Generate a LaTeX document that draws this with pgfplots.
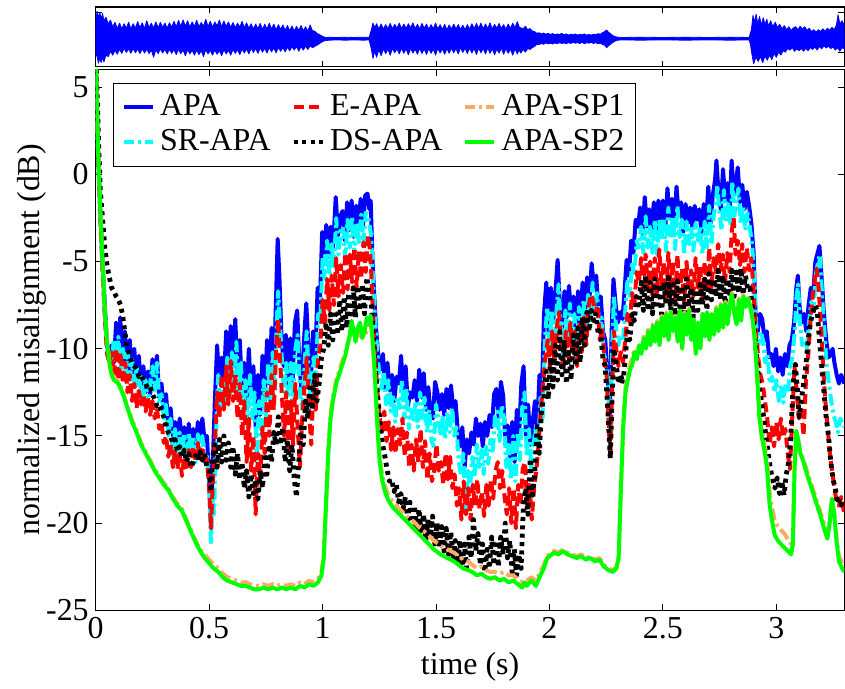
\documentclass[border=0pt]{standalone}
\usepackage{fontspec}
\setmainfont{Liberation Serif}
\usepackage{pgfplots}
\pgfplotsset{compat=1.18}
\definecolor{myorange}{RGB}{255,170,100}
\definecolor{mygreen}{RGB}{0,255,0}
\definecolor{mycyan}{RGB}{0,255,255}
\definecolor{myblue}{RGB}{0,0,255}
\definecolor{myred}{RGB}{255,0,0}
\begin{document}
\begin{tikzpicture}
\begin{axis}[name=main, scale only axis, width=375.4pt, height=271pt,
 xmin=0, xmax=3.3, ymin=-25, ymax=6,
 xtick={0,0.5,1,1.5,2,2.5,3}, xticklabels={0,0.5,1,1.5,2,2.5,3},
 ytick={-25,-20,-15,-10,-5,0,5}, yticklabels={-25,-20,-15,-10,-5,0,5},
 tick label style={font=\fontsize{16}{19}\selectfont},
 label style={font=\fontsize{16}{19}\selectfont},
 xlabel={time (s)}, ylabel={normalized misalignment (dB)},
 ylabel style={yshift=-7pt},
 major tick length=3pt, tick style={black, line width=0.5pt},
 axis line style={line width=0.6pt},
 legend columns=3,
 legend cell align=left,
 legend image code/.code={\draw[#1] (0pt,0pt) -- (14.5pt,0pt);},
 legend style={at={(axis description cs:0.0226,0.976)}, anchor=north west,
   draw=black, line width=0.5pt, fill=white, inner xsep=4.5pt, inner ysep=4pt,
   font=\fontsize{16}{19}\selectfont,
   nodes={inner sep=1pt, text height=11pt, text depth=3pt},
   /tikz/row sep=1.5pt,
   /tikz/column sep=1.5pt,
   /tikz/every even column/.append style={column sep=9.5pt}},
 every axis plot/.append style={line join=round},
]
% APA
\addplot[myblue, line width=2pt, forget plot] table {
0.000 7.0
0.010 1.5
0.020 -2.0
0.030 -5.0
0.040 -7.5
0.050 -9.8
0.060 -10.6
0.070 -9.8
0.080 -10.8
0.090 -8.5
0.100 -10.5
0.108 -8.2
0.118 -10.9
0.128 -9.0
0.140 -11.2
0.150 -9.5
0.160 -11.5
0.170 -10.0
0.180 -12.0
0.190 -10.4
0.200 -12.2
0.210 -11.0
0.220 -12.5
0.230 -11.3
0.240 -12.6
0.250 -10.6
0.260 -11.8
0.270 -10.4
0.280 -12.8
0.290 -12.0
0.300 -13.5
0.310 -12.6
0.320 -14.5
0.330 -13.4
0.340 -15.0
0.350 -14.2
0.360 -15.6
0.370 -14.0
0.380 -15.3
0.390 -14.5
0.400 -15.8
0.410 -14.3
0.420 -15.5
0.430 -14.6
0.440 -15.9
0.450 -14.2
0.460 -15.2
0.470 -14.0
0.480 -15.3
0.490 -15.0
0.500 -17.5
0.508 -20.0
0.515 -17.0
0.525 -13.0
0.535 -9.8
0.545 -12.0
0.555 -10.5
0.565 -11.8
0.575 -9.0
0.585 -11.5
0.595 -8.7
0.605 -11.0
0.615 -8.3
0.625 -11.5
0.635 -9.5
0.645 -12.5
0.655 -10.8
0.665 -13.0
0.675 -10.0
0.685 -12.8
0.695 -11.0
0.705 -14.5
0.715 -11.5
0.725 -13.8
0.735 -10.4
0.745 -13.0
0.755 -9.5
0.765 -12.0
0.775 -8.8
0.785 -11.5
0.795 -7.0
0.802 -3.7
0.810 -6.0
0.818 -9.0
0.828 -11.0
0.838 -9.2
0.848 -12.0
0.858 -9.4
0.868 -11.8
0.878 -8.5
0.888 -7.8
0.898 -11.0
0.908 -12.5
0.918 -9.5
0.928 -7.4
0.938 -10.0
0.948 -12.0
0.958 -9.0
0.968 -10.5
0.978 -6.5
0.988 -7.5
0.998 -3.3
1.008 -4.5
1.016 -2.9
1.026 -4.7
1.036 -3.0
1.046 -4.2
1.058 -1.3
1.068 -3.5
1.078 -2.4
1.088 -2.1
1.098 -3.8
1.108 -1.6
1.118 -3.2
1.128 -1.5
1.138 -3.6
1.148 -1.8
1.158 -2.8
1.168 -1.4
1.178 -3.0
1.188 -1.2
1.198 -1.1
1.206 -2.0
1.212 -1.5
1.220 -4.9
1.228 -7.0
1.236 -8.9
1.246 -10.5
1.256 -11.2
1.266 -10.3
1.276 -12.3
1.286 -10.8
1.296 -12.4
1.306 -11.5
1.316 -13.0
1.326 -11.6
1.336 -12.0
1.346 -10.4
1.356 -12.8
1.366 -11.0
1.376 -13.3
1.386 -12.5
1.396 -12.8
1.406 -11.8
1.416 -13.0
1.426 -11.2
1.436 -12.8
1.446 -11.4
1.456 -13.5
1.466 -12.2
1.476 -13.8
1.486 -14.0
1.496 -11.9
1.506 -12.5
1.516 -13.5
1.526 -12.6
1.536 -13.8
1.546 -12.3
1.556 -13.4
1.566 -12.1
1.576 -13.5
1.586 -13.0
1.596 -14.8
1.606 -15.6
1.616 -14.5
1.626 -16.8
1.636 -15.2
1.646 -16.0
1.656 -14.8
1.666 -15.5
1.676 -14.0
1.686 -15.0
1.696 -14.3
1.706 -15.6
1.716 -14.2
1.726 -15.0
1.736 -13.8
1.746 -14.5
1.756 -12.6
1.766 -12.3
1.776 -14.0
1.786 -11.9
1.796 -12.7
1.806 -15.5
1.816 -14.4
1.826 -16.2
1.836 -14.2
1.846 -16.5
1.856 -13.5
1.866 -15.0
1.876 -12.0
1.886 -11.0
1.896 -15.0
1.906 -13.2
1.916 -15.5
1.926 -14.2
1.936 -13.0
1.946 -14.5
1.956 -11.5
1.966 -12.8
1.976 -8.0
1.986 -6.2
1.996 -9.0
2.006 -6.5
2.016 -8.5
2.026 -6.8
2.036 -4.9
2.046 -7.5
2.056 -8.8
2.066 -6.7
2.076 -8.2
2.086 -6.4
2.096 -8.0
2.106 -7.0
2.116 -9.0
2.126 -6.7
2.136 -8.5
2.146 -6.2
2.156 -8.0
2.166 -5.9
2.176 -7.2
2.186 -5.1
2.196 -6.5
2.206 -5.8
2.216 -7.8
2.226 -7.0
2.236 -9.0
2.246 -9.5
2.256 -11.5
2.266 -13.9
2.274 -9.0
2.282 -6.0
2.292 -7.5
2.302 -8.5
2.312 -7.9
2.322 -8.3
2.332 -6.5
2.340 -4.9
2.350 -5.8
2.360 -3.8
2.370 -4.5
2.380 -2.6
2.390 -3.0
2.400 -1.9
2.410 -3.4
2.420 -1.3
2.430 -3.0
2.440 -2.0
2.450 -3.2
2.460 -1.6
2.470 -3.3
2.480 -1.5
2.490 -2.6
2.500 -1.5
2.510 -3.2
2.520 -0.8
2.530 -2.5
2.540 -1.4
2.550 -3.0
2.560 -0.7
2.570 -2.4
2.580 -1.6
2.590 -3.3
2.600 -1.7
2.610 -2.8
2.620 -1.9
2.630 -3.1
2.640 -1.8
2.650 -2.6
2.660 -2.0
2.670 -3.3
2.680 -1.7
2.690 -2.9
2.700 -0.7
2.710 -2.8
2.720 -1.2
2.730 -0.3
2.736 0.8
2.745 -1.0
2.755 -2.0
2.765 0.3
2.775 -1.5
2.785 -0.5
2.795 -1.8
2.803 0.8
2.812 -1.2
2.822 -0.4
2.830 0.4
2.840 -1.6
2.850 -0.6
2.860 -2.0
2.870 -1.0
2.880 -1.8
2.890 -2.8
2.900 -4.5
2.908 -7.9
2.918 -9.0
2.928 -8.0
2.938 -8.3
2.948 -9.5
2.958 -9.0
2.968 -10.5
2.978 -10.3
2.988 -11.0
2.998 -10.0
3.008 -11.3
3.018 -10.5
3.028 -11.5
3.038 -10.3
3.048 -11.0
3.058 -9.8
3.068 -9.5
3.078 -8.5
3.088 -6.5
3.095 -5.8
3.102 -7.5
3.112 -8.5
3.122 -8.0
3.132 -9.0
3.142 -7.5
3.152 -6.5
3.162 -7.0
3.172 -5.0
3.182 -4.5
3.190 -4.1
3.200 -6.0
3.210 -8.0
3.220 -9.5
3.230 -10.5
3.240 -10.3
3.248 -10.0
3.256 -10.8
3.266 -11.5
3.276 -12.0
3.286 -11.5
3.300 -12.0
};
% SR-APA
\addplot[mycyan, line width=2pt, dash pattern=on 6pt off 2pt on 1.5pt off 2pt, forget plot] table {
0.000 7.0
0.010 1.3
0.020 -2.2
0.030 -5.3
0.040 -7.8
0.050 -10.0
0.060 -10.4
0.070 -10.8
0.080 -9.5
0.090 -10.8
0.100 -9.3
0.110 -11.2
0.120 -10.0
0.130 -11.5
0.140 -10.2
0.150 -11.8
0.160 -10.6
0.170 -12.3
0.180 -11.0
0.190 -12.5
0.200 -11.5
0.210 -12.8
0.220 -11.8
0.230 -13.2
0.240 -12.0
0.250 -11.0
0.260 -12.4
0.270 -10.8
0.280 -13.0
0.290 -12.6
0.300 -14.0
0.310 -13.2
0.320 -15.0
0.330 -14.0
0.340 -16.2
0.350 -14.6
0.360 -16.5
0.370 -14.8
0.380 -16.0
0.390 -14.9
0.400 -16.4
0.410 -14.8
0.420 -16.0
0.430 -15.0
0.440 -16.6
0.450 -14.9
0.460 -16.2
0.470 -15.0
0.480 -16.5
0.490 -16.0
0.500 -18.0
0.508 -21.2
0.515 -18.5
0.522 -19.5
0.530 -15.0
0.540 -11.5
0.550 -13.5
0.560 -11.8
0.570 -13.2
0.580 -10.5
0.590 -12.8
0.600 -10.2
0.610 -12.5
0.620 -9.6
0.630 -12.8
0.640 -10.8
0.650 -14.0
0.660 -11.8
0.670 -14.5
0.680 -11.5
0.690 -14.0
0.700 -12.5
0.710 -16.5
0.720 -13.0
0.730 -15.0
0.740 -11.8
0.750 -14.2
0.760 -10.8
0.770 -13.5
0.780 -10.2
0.790 -12.5
0.798 -8.5
0.804 -6.7
0.812 -8.5
0.820 -10.5
0.830 -12.5
0.840 -10.8
0.850 -13.5
0.860 -10.8
0.870 -13.0
0.880 -10.0
0.890 -9.2
0.900 -12.5
0.910 -13.5
0.920 -11.0
0.930 -9.0
0.940 -11.8
0.950 -13.5
0.960 -10.5
0.970 -12.0
0.980 -8.0
0.990 -8.5
1.000 -4.8
1.010 -6.0
1.020 -3.8
1.030 -5.8
1.040 -4.0
1.050 -5.3
1.060 -2.5
1.070 -4.6
1.080 -3.2
1.090 -3.0
1.100 -4.8
1.110 -2.6
1.120 -4.2
1.130 -2.4
1.140 -4.6
1.150 -2.8
1.160 -3.9
1.170 -2.3
1.180 -4.0
1.190 -2.2
1.200 -2.3
1.208 -3.0
1.214 -3.5
1.222 -6.0
1.230 -8.0
1.240 -10.0
1.250 -11.5
1.260 -12.3
1.270 -11.3
1.280 -13.2
1.290 -11.8
1.300 -13.6
1.310 -12.6
1.320 -14.2
1.330 -12.8
1.340 -13.4
1.350 -11.8
1.360 -14.0
1.370 -12.3
1.380 -14.6
1.390 -13.5
1.400 -14.2
1.410 -13.0
1.420 -14.5
1.430 -12.5
1.440 -14.0
1.450 -12.8
1.460 -14.8
1.470 -13.5
1.480 -15.3
1.490 -15.6
1.500 -13.2
1.510 -14.0
1.520 -15.0
1.530 -13.8
1.540 -15.2
1.550 -13.6
1.560 -14.8
1.570 -13.4
1.580 -15.0
1.590 -14.5
1.600 -16.5
1.610 -17.2
1.620 -16.0
1.630 -19.5
1.640 -17.0
1.650 -18.0
1.660 -16.2
1.670 -17.3
1.680 -15.5
1.690 -16.8
1.700 -15.8
1.710 -17.2
1.720 -15.6
1.730 -16.6
1.740 -15.2
1.750 -16.0
1.760 -13.8
1.770 -13.6
1.780 -15.3
1.790 -13.2
1.800 -14.0
1.810 -16.8
1.820 -15.5
1.830 -17.5
1.840 -15.0
1.850 -17.6
1.860 -14.8
1.870 -16.4
1.880 -13.4
1.890 -12.5
1.900 -16.2
1.910 -14.6
1.920 -17.0
1.930 -15.5
1.940 -14.5
1.950 -15.8
1.960 -12.8
1.970 -14.0
1.980 -9.5
1.990 -7.6
2.000 -10.3
2.010 -7.8
2.020 -10.0
2.030 -8.0
2.040 -6.3
2.050 -8.8
2.060 -10.3
2.070 -7.8
2.080 -9.5
2.090 -7.4
2.100 -9.6
2.110 -8.0
2.120 -10.5
2.130 -7.6
2.140 -9.8
2.150 -7.2
2.160 -9.4
2.170 -6.9
2.180 -8.5
2.190 -6.2
2.200 -7.8
2.210 -6.8
2.220 -9.0
2.230 -8.2
2.240 -10.3
2.250 -10.8
2.260 -12.5
2.268 -15.0
2.276 -10.2
2.284 -7.0
2.294 -8.8
2.304 -9.8
2.314 -9.2
2.324 -9.6
2.334 -7.8
2.344 -6.0
2.354 -7.0
2.364 -5.0
2.374 -5.8
2.384 -3.8
2.394 -4.2
2.404 -3.0
2.414 -4.5
2.424 -2.4
2.434 -4.2
2.444 -3.0
2.454 -4.5
2.464 -2.6
2.474 -4.6
2.484 -2.6
2.494 -3.8
2.504 -2.5
2.514 -4.4
2.524 -1.9
2.534 -3.7
2.544 -2.4
2.554 -4.3
2.564 -1.8
2.574 -3.6
2.584 -2.6
2.594 -4.6
2.604 -2.7
2.614 -4.0
2.624 -2.9
2.634 -4.4
2.644 -2.8
2.654 -3.8
2.664 -3.0
2.674 -4.6
2.684 -2.7
2.694 -4.2
2.704 -1.8
2.714 -4.0
2.724 -2.3
2.734 -1.6
2.740 -0.6
2.749 -2.2
2.759 -3.2
2.769 -0.9
2.779 -2.7
2.789 -1.6
2.799 -3.0
2.806 -0.4
2.815 -2.4
2.825 -1.5
2.833 -0.8
2.843 -2.8
2.853 -1.8
2.863 -3.2
2.873 -2.2
2.883 -3.0
2.893 -4.0
2.903 -6.0
2.911 -8.6
2.921 -9.8
2.931 -9.0
2.941 -9.5
2.951 -10.8
2.961 -10.3
2.971 -12.0
2.981 -11.6
2.991 -12.5
3.001 -11.8
3.011 -13.0
3.021 -12.2
3.031 -13.1
3.041 -12.0
3.051 -12.5
3.061 -11.0
3.071 -10.5
3.081 -9.0
3.089 -7.0
3.096 -6.3
3.104 -8.5
3.114 -9.8
3.124 -9.5
3.134 -10.0
3.144 -8.5
3.154 -7.3
3.164 -7.8
3.174 -5.8
3.184 -5.0
3.192 -4.6
3.202 -7.0
3.212 -9.0
3.222 -11.0
3.232 -12.0
3.242 -13.0
3.252 -13.8
3.262 -14.2
3.272 -14.8
3.282 -14.0
3.300 -14.5
};
% E-APA
\addplot[myred, line width=2pt, dash pattern=on 5pt off 2.5pt, forget plot] table {
0.000 7.0
0.010 1.2
0.020 -2.5
0.030 -5.6
0.040 -8.2
0.050 -10.3
0.060 -10.8
0.070 -10.2
0.080 -11.5
0.090 -10.0
0.100 -11.8
0.110 -10.2
0.120 -12.0
0.130 -10.8
0.140 -12.5
0.150 -11.5
0.160 -13.0
0.170 -12.0
0.180 -13.4
0.190 -12.4
0.200 -13.2
0.210 -12.6
0.220 -13.6
0.230 -12.8
0.240 -13.8
0.250 -13.0
0.260 -14.0
0.270 -13.4
0.280 -14.6
0.290 -14.2
0.300 -15.4
0.310 -15.0
0.320 -16.2
0.330 -15.5
0.340 -16.8
0.350 -15.8
0.360 -16.9
0.370 -16.0
0.380 -17.3
0.390 -16.2
0.400 -17.0
0.410 -15.8
0.420 -16.8
0.430 -15.6
0.440 -16.5
0.450 -15.4
0.460 -16.2
0.470 -15.6
0.480 -16.6
0.490 -16.3
0.500 -18.0
0.508 -20.3
0.515 -18.0
0.525 -15.5
0.535 -12.5
0.545 -14.0
0.555 -11.5
0.565 -13.5
0.575 -11.0
0.585 -13.2
0.595 -10.7
0.605 -13.0
0.615 -11.5
0.625 -14.0
0.635 -12.0
0.645 -15.0
0.655 -13.0
0.665 -16.5
0.675 -14.0
0.685 -17.0
0.695 -15.0
0.705 -19.5
0.715 -16.0
0.725 -17.5
0.735 -14.5
0.745 -16.0
0.755 -12.5
0.765 -15.0
0.775 -11.5
0.785 -13.5
0.795 -10.0
0.804 -8.3
0.812 -10.5
0.820 -12.5
0.830 -15.0
0.840 -12.5
0.850 -15.8
0.860 -13.0
0.870 -15.5
0.880 -12.0
0.890 -14.5
0.900 -16.8
0.910 -14.0
0.920 -12.2
0.930 -10.5
0.940 -13.5
0.950 -15.5
0.960 -12.0
0.970 -13.5
0.980 -10.5
0.990 -9.8
1.000 -7.2
1.010 -8.5
1.020 -6.0
1.030 -7.8
1.040 -5.8
1.050 -7.5
1.060 -4.8
1.070 -7.0
1.080 -5.2
1.090 -6.8
1.100 -4.5
1.110 -6.6
1.120 -4.6
1.130 -6.2
1.140 -4.2
1.150 -6.5
1.160 -4.4
1.170 -6.0
1.180 -3.9
1.190 -5.6
1.200 -3.5
1.208 -4.2
1.214 -5.5
1.222 -8.0
1.232 -10.5
1.242 -12.5
1.252 -14.0
1.262 -14.8
1.272 -13.6
1.282 -15.3
1.292 -14.2
1.302 -15.8
1.312 -14.5
1.322 -16.0
1.332 -14.6
1.342 -15.5
1.352 -14.0
1.362 -16.2
1.372 -14.8
1.382 -16.8
1.392 -15.5
1.402 -17.0
1.412 -15.2
1.422 -16.5
1.432 -14.6
1.442 -16.8
1.452 -15.3
1.462 -17.5
1.472 -16.0
1.482 -17.6
1.492 -17.0
1.502 -15.5
1.512 -17.0
1.522 -16.5
1.532 -17.8
1.542 -16.0
1.552 -17.5
1.562 -16.2
1.572 -18.0
1.582 -17.2
1.592 -19.0
1.602 -18.0
1.612 -19.8
1.622 -17.6
1.632 -19.5
1.642 -18.0
1.652 -19.8
1.662 -17.8
1.672 -19.0
1.682 -17.5
1.692 -19.2
1.702 -18.2
1.712 -19.6
1.722 -17.8
1.732 -19.0
1.742 -17.5
1.752 -18.6
1.762 -17.0
1.772 -16.5
1.782 -18.0
1.792 -17.0
1.802 -18.5
1.812 -19.5
1.822 -18.0
1.832 -20.0
1.842 -18.0
1.852 -20.3
1.862 -17.8
1.872 -19.0
1.882 -16.9
1.892 -16.5
1.902 -19.0
1.912 -17.8
1.922 -19.8
1.932 -18.0
1.942 -17.0
1.952 -15.5
1.962 -13.5
1.972 -12.0
1.982 -10.5
1.992 -9.5
2.002 -11.0
2.012 -9.0
2.022 -10.8
2.032 -8.8
2.042 -7.9
2.052 -10.0
2.062 -11.2
2.072 -9.0
2.082 -10.5
2.092 -8.5
2.102 -10.3
2.112 -9.0
2.122 -11.0
2.132 -8.6
2.142 -10.2
2.152 -8.2
2.162 -9.8
2.172 -7.6
2.182 -6.9
2.192 -7.2
2.202 -8.0
2.212 -7.5
2.222 -9.5
2.232 -8.8
2.242 -10.5
2.252 -11.5
2.260 -14.0
2.268 -16.3
2.276 -12.5
2.284 -9.0
2.294 -10.0
2.304 -11.0
2.314 -10.2
2.324 -10.8
2.334 -9.5
2.344 -8.0
2.354 -8.5
2.364 -6.8
2.374 -7.5
2.384 -5.6
2.394 -6.2
2.404 -4.8
2.414 -6.8
2.424 -4.6
2.434 -6.5
2.444 -5.0
2.454 -7.0
2.464 -4.8
2.474 -6.8
2.484 -4.3
2.494 -6.5
2.504 -5.0
2.514 -7.2
2.524 -4.5
2.534 -6.6
2.544 -5.0
2.554 -7.3
2.564 -4.6
2.574 -6.8
2.584 -5.4
2.594 -7.4
2.604 -5.0
2.614 -6.6
2.624 -5.5
2.634 -7.0
2.644 -4.8
2.654 -6.5
2.664 -5.3
2.674 -7.2
2.684 -5.0
2.694 -6.8
2.704 -4.2
2.714 -6.5
2.724 -4.8
2.734 -5.6
2.744 -4.0
2.754 -5.5
2.764 -4.6
2.774 -6.2
2.784 -4.5
2.794 -5.6
2.804 -3.2
2.812 -2.5
2.820 -4.6
2.830 -3.8
2.840 -5.2
2.850 -4.0
2.860 -5.6
2.870 -4.2
2.880 -5.5
2.890 -4.8
2.900 -6.8
2.910 -9.0
2.920 -10.5
2.930 -11.5
2.940 -12.0
2.950 -13.0
2.960 -14.0
2.970 -15.5
2.980 -14.5
2.990 -15.6
3.000 -14.2
3.010 -15.2
3.020 -14.0
3.030 -15.1
3.040 -14.6
3.050 -16.0
3.060 -16.9
3.070 -14.0
3.080 -11.0
3.090 -12.5
3.100 -14.0
3.110 -13.5
3.120 -15.0
3.130 -12.0
3.140 -10.5
3.150 -8.5
3.160 -7.0
3.170 -6.0
3.178 -5.4
3.186 -6.5
3.196 -8.5
3.206 -11.0
3.216 -13.0
3.226 -14.5
3.236 -16.0
3.246 -17.0
3.256 -18.0
3.266 -18.8
3.276 -19.0
3.286 -18.5
3.300 -19.5
};
% DS-APA
\addplot[black, line width=2.4pt, dash pattern=on 2pt off 2.2pt, forget plot] table {
0.000 7.0
0.010 3.0
0.020 -0.9
0.030 -2.5
0.040 -4.2
0.050 -5.2
0.060 -5.9
0.070 -6.5
0.080 -6.7
0.090 -7.0
0.100 -7.2
0.110 -7.5
0.120 -8.2
0.130 -9.2
0.140 -10.0
0.150 -10.4
0.160 -10.8
0.170 -11.0
0.180 -11.2
0.190 -11.6
0.200 -11.5
0.210 -11.8
0.220 -12.0
0.230 -12.3
0.240 -12.2
0.250 -12.6
0.260 -12.9
0.270 -13.3
0.280 -13.2
0.290 -13.6
0.300 -13.9
0.310 -14.5
0.320 -14.8
0.330 -15.0
0.340 -15.4
0.350 -15.2
0.360 -15.9
0.370 -15.6
0.380 -16.2
0.390 -15.8
0.400 -16.5
0.410 -16.0
0.420 -16.8
0.430 -16.5
0.440 -16.1
0.450 -16.4
0.460 -15.9
0.470 -16.4
0.480 -16.0
0.490 -16.8
0.500 -17.0
0.508 -18.2
0.515 -16.2
0.525 -15.5
0.535 -16.8
0.545 -15.2
0.555 -16.5
0.565 -15.0
0.575 -16.4
0.585 -15.4
0.595 -16.8
0.605 -15.6
0.615 -17.2
0.625 -16.0
0.635 -17.5
0.645 -16.5
0.655 -18.0
0.665 -17.0
0.675 -18.5
0.685 -17.2
0.695 -18.3
0.705 -17.5
0.715 -18.6
0.725 -17.0
0.735 -18.0
0.745 -16.0
0.755 -17.2
0.765 -15.5
0.775 -16.5
0.785 -14.8
0.795 -15.5
0.805 -13.9
0.815 -15.5
0.825 -14.5
0.835 -16.5
0.845 -15.2
0.855 -17.0
0.865 -15.5
0.875 -17.5
0.885 -18.5
0.895 -16.5
0.905 -14.5
0.915 -15.5
0.925 -13.0
0.935 -14.0
0.945 -12.0
0.955 -13.5
0.965 -11.5
0.975 -13.0
0.985 -12.0
0.995 -10.5
1.005 -10.0
1.015 -8.5
1.025 -9.8
1.035 -8.0
1.045 -9.5
1.055 -7.8
1.065 -9.2
1.075 -7.2
1.085 -9.0
1.095 -7.0
1.105 -8.8
1.115 -6.8
1.125 -8.5
1.135 -6.5
1.145 -8.2
1.155 -6.4
1.165 -7.8
1.175 -6.3
1.185 -8.0
1.195 -5.9
1.205 -6.8
1.215 -7.5
1.225 -9.5
1.235 -11.5
1.245 -13.0
1.255 -14.5
1.265 -15.5
1.275 -16.2
1.285 -17.0
1.295 -17.6
1.305 -17.5
1.315 -18.2
1.325 -17.8
1.335 -18.8
1.345 -18.3
1.355 -19.2
1.365 -18.5
1.375 -19.8
1.385 -18.8
1.395 -20.2
1.405 -19.0
1.415 -20.5
1.425 -19.2
1.435 -20.6
1.445 -19.5
1.455 -21.0
1.465 -19.8
1.475 -20.8
1.485 -19.6
1.495 -21.2
1.505 -20.0
1.515 -21.4
1.525 -20.2
1.535 -21.6
1.545 -20.3
1.555 -21.8
1.565 -20.5
1.575 -22.0
1.585 -21.0
1.595 -22.3
1.605 -21.0
1.615 -22.5
1.625 -21.2
1.635 -22.6
1.645 -20.8
1.655 -22.0
1.665 -19.8
1.675 -21.6
1.685 -20.6
1.695 -22.4
1.705 -21.2
1.715 -22.8
1.725 -21.5
1.735 -22.6
1.745 -20.8
1.755 -22.4
1.765 -21.0
1.775 -22.5
1.785 -20.8
1.795 -21.8
1.805 -20.0
1.815 -22.0
1.825 -21.0
1.835 -22.8
1.845 -21.5
1.855 -23.0
1.865 -21.8
1.875 -22.6
1.885 -19.0
1.895 -18.0
1.905 -19.5
1.915 -16.3
1.925 -18.4
1.935 -17.2
1.945 -14.5
1.955 -16.0
1.965 -13.5
1.975 -12.8
1.985 -11.3
1.995 -12.9
2.005 -10.5
2.015 -12.2
2.025 -9.8
2.035 -11.8
2.045 -9.0
2.055 -11.5
2.065 -9.5
2.075 -12.0
2.085 -10.0
2.095 -11.8
2.105 -9.2
2.115 -11.0
2.125 -8.8
2.135 -10.8
2.145 -8.2
2.155 -9.8
2.165 -7.9
2.175 -9.0
2.185 -7.8
2.195 -8.4
2.205 -8.0
2.215 -9.2
2.225 -9.0
2.235 -10.5
2.245 -11.0
2.255 -13.0
2.263 -15.0
2.268 -16.3
2.276 -13.0
2.284 -10.0
2.294 -10.8
2.304 -12.0
2.314 -11.5
2.324 -12.0
2.334 -10.5
2.344 -9.0
2.354 -9.5
2.364 -8.0
2.374 -8.4
2.384 -7.0
2.394 -7.5
2.404 -6.2
2.414 -7.8
2.424 -5.8
2.434 -7.6
2.444 -6.2
2.454 -8.0
2.464 -6.0
2.474 -7.7
2.484 -6.3
2.494 -8.0
2.504 -6.2
2.514 -7.5
2.524 -5.9
2.534 -7.8
2.544 -6.3
2.554 -8.1
2.564 -6.1
2.574 -7.6
2.584 -6.4
2.594 -8.0
2.604 -6.0
2.614 -7.6
2.624 -6.5
2.634 -8.2
2.644 -6.6
2.654 -7.8
2.664 -6.3
2.674 -7.5
2.684 -6.0
2.694 -7.8
2.704 -5.7
2.714 -7.2
2.724 -6.0
2.734 -7.0
2.744 -5.5
2.754 -7.2
2.764 -5.8
2.774 -7.4
2.784 -6.0
2.794 -7.0
2.804 -5.5
2.814 -7.0
2.824 -5.6
2.834 -6.8
2.844 -5.4
2.854 -6.9
2.864 -5.8
2.874 -6.6
2.884 -6.5
2.894 -7.5
2.904 -9.0
2.914 -10.5
2.924 -12.0
2.934 -13.0
2.944 -13.9
2.954 -15.0
2.964 -16.0
2.974 -16.9
2.984 -17.5
2.994 -18.0
3.004 -17.4
3.014 -18.3
3.024 -17.6
3.034 -18.4
3.044 -17.2
3.054 -16.5
3.064 -15.0
3.074 -12.0
3.084 -10.9
3.094 -12.5
3.100 -13.9
3.110 -13.0
3.120 -12.0
3.130 -11.0
3.140 -9.5
3.150 -8.5
3.160 -8.0
3.170 -7.5
3.180 -7.8
3.190 -9.5
3.200 -11.0
3.210 -12.5
3.220 -14.0
3.230 -15.0
3.240 -16.5
3.250 -17.5
3.260 -18.0
3.270 -18.9
3.280 -18.6
3.290 -19.0
3.300 -19.2
};
% APA-SP1
\addplot[myorange, line width=2pt, dash pattern=on 6pt off 2pt on 1.5pt off 2pt, forget plot] table {
0.000 7.0
0.005 4.1
0.010 1.6
0.020 -1.9
0.030 -4.9
0.040 -7.7
0.050 -9.5
0.060 -10.7
0.070 -11.4
0.080 -11.7
0.090 -11.8
0.100 -11.9
0.120 -12.5
0.140 -13.3
0.160 -14.1
0.180 -14.7
0.200 -15.4
0.220 -15.9
0.240 -16.4
0.260 -16.9
0.280 -17.3
0.300 -17.7
0.320 -18.0
0.340 -18.5
0.360 -18.9
0.380 -19.2
0.400 -19.8
0.420 -20.4
0.440 -21.0
0.460 -21.5
0.480 -21.8
0.500 -22.1
0.520 -22.4
0.540 -22.6
0.560 -22.9
0.580 -23.1
0.600 -23.2
0.620 -23.3
0.640 -23.4
0.660 -23.4
0.680 -23.5
0.700 -23.6
0.720 -23.6
0.740 -23.5
0.760 -23.6
0.780 -23.5
0.800 -23.6
0.820 -23.5
0.840 -23.6
0.860 -23.5
0.880 -23.6
0.900 -23.4
0.920 -23.5
0.940 -23.3
0.960 -23.4
0.980 -23.2
0.995 -22.8
1.005 -21.8
1.015 -18.8
1.025 -15.8
1.035 -13.8
1.045 -12.8
1.060 -11.8
1.075 -11.2
1.090 -10.6
1.100 -10.2
1.110 -9.7
1.120 -9.3
1.130 -9.0
1.150 -9.3
1.170 -9.2
1.190 -9.1
1.212 -8.5
1.220 -9.4
1.228 -10.9
1.236 -12.8
1.244 -14.8
1.252 -16.2
1.262 -17.2
1.275 -17.9
1.290 -18.4
1.310 -18.8
1.340 -19.2
1.370 -19.6
1.400 -19.9
1.430 -20.3
1.460 -20.6
1.490 -21.0
1.520 -21.3
1.550 -21.5
1.580 -21.7
1.600 -21.9
1.620 -22.1
1.640 -22.2
1.660 -22.4
1.680 -22.6
1.700 -22.5
1.720 -22.7
1.740 -22.8
1.760 -22.8
1.780 -22.9
1.800 -22.8
1.820 -23.0
1.840 -23.0
1.860 -23.2
1.880 -23.4
1.900 -23.3
1.920 -23.1
1.940 -23.3
1.960 -22.8
1.975 -22.4
1.990 -21.9
2.000 -21.8
2.020 -21.6
2.040 -21.7
2.060 -21.5
2.080 -21.7
2.100 -21.8
2.120 -21.9
2.140 -21.8
2.160 -22.0
2.180 -21.9
2.200 -22.1
2.220 -22.0
2.240 -22.4
2.260 -22.6
2.280 -22.7
2.295 -22.5
2.305 -21.9
2.315 -17.9
2.325 -14.3
2.335 -12.2
2.345 -11.5
2.355 -10.9
2.365 -10.5
2.375 -10.0
2.385 -10.5
2.395 -9.7
2.405 -10.2
2.415 -9.3
2.425 -9.9
2.435 -8.9
2.445 -9.7
2.455 -8.6
2.465 -9.5
2.475 -8.4
2.485 -9.7
2.495 -8.1
2.505 -9.2
2.515 -7.9
2.525 -9.4
2.535 -7.8
2.545 -8.9
2.555 -8.1
2.565 -9.5
2.575 -7.7
2.585 -9.9
2.595 -7.9
2.605 -9.1
2.615 -7.7
2.625 -9.4
2.635 -8.2
2.645 -10.2
2.655 -8.4
2.665 -9.9
2.675 -7.9
2.685 -9.2
2.695 -7.8
2.705 -9.4
2.715 -7.9
2.725 -9.1
2.735 -7.6
2.745 -8.9
2.755 -7.4
2.765 -8.7
2.775 -7.3
2.785 -8.5
2.795 -7.4
2.805 -6.8
2.815 -7.9
2.825 -8.5
2.835 -7.1
2.845 -8.3
2.855 -6.9
2.865 -7.5
2.875 -7.0
2.885 -7.5
2.895 -8.1
2.905 -9.3
2.915 -11.2
2.925 -13.5
2.935 -14.6
2.950 -15.6
2.960 -16.5
2.970 -18.2
2.980 -19.0
2.993 -19.9
3.007 -20.2
3.020 -20.4
3.035 -20.6
3.050 -20.9
3.065 -21.2
3.073 -20.8
3.080 -17.0
3.088 -14.8
3.096 -15.2
3.106 -15.9
3.120 -16.4
3.135 -17.0
3.150 -17.6
3.165 -18.2
3.180 -18.8
3.195 -19.4
3.210 -20.0
3.225 -20.6
3.235 -19.9
3.245 -18.7
3.255 -19.4
3.265 -20.8
3.276 -21.9
3.290 -22.3
3.300 -22.5
};
% APA-SP2
\addplot[mygreen, line width=2pt, forget plot] table {
0.000 7.0
0.005 4.0
0.010 1.5
0.020 -2.0
0.030 -5.0
0.040 -7.8
0.050 -9.6
0.060 -10.8
0.070 -11.5
0.080 -11.8
0.090 -11.9
0.100 -12.0
0.110 -12.3
0.120 -12.6
0.130 -13.0
0.140 -13.4
0.160 -14.2
0.180 -14.8
0.200 -15.5
0.220 -16.0
0.240 -16.5
0.260 -17.0
0.280 -17.4
0.300 -17.8
0.320 -18.1
0.340 -18.6
0.360 -19.0
0.380 -19.3
0.400 -19.9
0.420 -20.5
0.440 -21.1
0.460 -21.6
0.480 -22.0
0.500 -22.3
0.520 -22.6
0.540 -22.8
0.560 -23.1
0.580 -23.3
0.600 -23.4
0.620 -23.5
0.640 -23.6
0.660 -23.6
0.680 -23.7
0.700 -23.8
0.720 -23.8
0.740 -23.7
0.760 -23.8
0.780 -23.7
0.800 -23.8
0.820 -23.7
0.840 -23.8
0.860 -23.7
0.880 -23.8
0.900 -23.6
0.920 -23.7
0.940 -23.5
0.960 -23.6
0.980 -23.4
0.995 -23.0
1.005 -22.0
1.015 -19.0
1.025 -16.0
1.035 -14.0
1.045 -13.0
1.060 -12.0
1.075 -11.4
1.090 -10.8
1.100 -10.4
1.110 -9.8
1.120 -9.2
1.128 -8.4
1.136 -8.9
1.145 -9.6
1.155 -8.8
1.165 -8.5
1.175 -9.4
1.185 -9.0
1.195 -8.2
1.205 -8.6
1.212 -8.1
1.220 -9.5
1.228 -11.0
1.236 -13.0
1.244 -15.0
1.252 -16.5
1.262 -17.5
1.275 -18.2
1.290 -18.7
1.310 -19.1
1.340 -19.5
1.370 -19.9
1.400 -20.3
1.430 -20.7
1.460 -21.1
1.490 -21.5
1.520 -21.8
1.550 -22.0
1.580 -22.2
1.600 -22.4
1.620 -22.6
1.640 -22.7
1.660 -22.8
1.680 -23.0
1.700 -22.9
1.720 -23.1
1.740 -23.2
1.760 -23.1
1.780 -23.3
1.800 -23.2
1.820 -23.4
1.840 -23.3
1.860 -23.5
1.880 -23.7
1.890 -23.4
1.900 -23.6
1.920 -23.3
1.940 -23.6
1.960 -23.0
1.975 -22.6
1.990 -22.0
2.000 -21.9
2.020 -21.7
2.040 -21.8
2.060 -21.6
2.080 -21.8
2.100 -21.9
2.120 -22.0
2.140 -21.9
2.160 -22.1
2.180 -22.0
2.200 -22.2
2.220 -22.1
2.240 -22.5
2.260 -22.7
2.280 -22.8
2.295 -22.6
2.305 -22.0
2.315 -18.0
2.325 -14.5
2.335 -12.5
2.345 -11.8
2.355 -11.2
2.365 -10.9
2.375 -10.2
2.385 -10.6
2.395 -9.8
2.405 -10.3
2.415 -9.4
2.425 -10.0
2.435 -9.0
2.445 -9.8
2.455 -8.7
2.465 -9.6
2.475 -8.5
2.485 -9.8
2.495 -8.2
2.505 -9.3
2.515 -8.0
2.525 -9.5
2.535 -7.9
2.545 -9.0
2.555 -8.2
2.565 -9.6
2.575 -7.8
2.585 -10.0
2.595 -8.0
2.605 -9.2
2.615 -7.8
2.625 -9.5
2.635 -8.3
2.645 -10.3
2.655 -8.5
2.665 -10.0
2.675 -8.0
2.685 -9.3
2.695 -7.9
2.705 -9.5
2.715 -8.0
2.725 -9.2
2.735 -7.7
2.745 -9.0
2.755 -7.5
2.765 -8.8
2.775 -7.4
2.785 -8.6
2.795 -7.5
2.805 -6.9
2.815 -8.0
2.825 -8.6
2.835 -7.2
2.845 -8.4
2.855 -7.0
2.865 -7.6
2.875 -7.1
2.885 -7.6
2.895 -8.3
2.905 -9.5
2.915 -11.5
2.925 -13.9
2.935 -15.0
2.950 -16.0
2.960 -17.0
2.970 -18.9
2.980 -19.8
2.993 -20.7
3.007 -21.0
3.020 -21.2
3.035 -21.4
3.050 -21.6
3.065 -21.8
3.073 -21.2
3.080 -17.0
3.088 -14.7
3.096 -15.2
3.106 -16.0
3.120 -16.5
3.135 -17.2
3.150 -17.8
3.165 -18.4
3.180 -19.0
3.195 -19.6
3.210 -20.3
3.225 -20.9
3.235 -20.0
3.245 -18.6
3.255 -19.5
3.265 -21.0
3.276 -22.2
3.290 -22.6
3.300 -22.8
};
\addlegendimage{myblue, line width=2pt}
\addlegendentry{APA}
\addlegendimage{myred, line width=2pt, dash pattern=on 5pt off 2.5pt}
\addlegendentry{E-APA}
\addlegendimage{myorange, line width=2pt, dash pattern=on 5pt off 2pt on 1.5pt off 2pt}
\addlegendentry{APA-SP1}
\addlegendimage{mycyan, line width=2pt, dash pattern=on 5pt off 2pt on 1.5pt off 2pt}
\addlegendentry{SR-APA}
\addlegendimage{black, line width=2.4pt, dash pattern=on 2pt off 2.2pt}
\addlegendentry{DS-APA}
\addlegendimage{mygreen, line width=2pt}
\addlegendentry{APA-SP2}
\end{axis}
\begin{axis}[name=top, at={(main.north west)}, anchor=south west, yshift=1.5pt,
 scale only axis, width=375.4pt, height=30pt,
 xmin=0, xmax=3.3, ymin=-0.94, ymax=1.06,
 xtick={0.5,1,1.5,2,2.5,3}, xticklabels={},
 ytick={-0.46,0.86}, yticklabels={},
 major tick length=3pt, tick style={black, line width=0.5pt},
 axis line style={line width=0.6pt}]
\addplot[draw=myblue, fill=myblue, line width=0.4pt, line join=round] table {
0.000 0.55
0.006 0.92
0.012 0.70
0.018 0.88
0.024 0.65
0.030 0.85
0.036 0.60
0.045 0.72
0.055 0.50
0.065 0.62
0.075 0.40
0.085 0.55
0.095 0.34
0.105 0.52
0.115 0.33
0.125 0.50
0.135 0.35
0.145 0.55
0.155 0.33
0.165 0.50
0.175 0.36
0.185 0.57
0.195 0.37
0.205 0.53
0.215 0.34
0.225 0.60
0.235 0.37
0.245 0.52
0.255 0.35
0.265 0.56
0.275 0.37
0.285 0.55
0.295 0.38
0.305 0.52
0.315 0.36
0.325 0.53
0.335 0.39
0.345 0.58
0.355 0.40
0.365 0.61
0.375 0.41
0.385 0.63
0.395 0.42
0.405 0.60
0.415 0.39
0.425 0.56
0.435 0.41
0.445 0.62
0.455 0.40
0.465 0.54
0.475 0.42
0.485 0.65
0.495 0.41
0.505 0.58
0.515 0.39
0.525 0.56
0.535 0.43
0.545 0.62
0.555 0.40
0.565 0.59
0.575 0.41
0.585 0.56
0.595 0.38
0.605 0.54
0.615 0.37
0.625 0.52
0.635 0.39
0.645 0.58
0.655 0.37
0.665 0.53
0.675 0.35
0.685 0.50
0.695 0.32
0.705 0.49
0.715 0.34
0.725 0.51
0.735 0.31
0.745 0.48
0.755 0.33
0.765 0.52
0.775 0.32
0.785 0.49
0.795 0.30
0.805 0.47
0.815 0.31
0.825 0.46
0.835 0.28
0.845 0.44
0.855 0.27
0.865 0.42
0.875 0.26
0.885 0.41
0.895 0.28
0.905 0.44
0.915 0.27
0.925 0.40
0.935 0.25
0.945 0.46
0.955 0.27
0.965 0.25
0.975 0.18
0.985 0.14
0.995 0.10
1.005 0.06
1.015 0.04
1.030 0.05
1.060 0.04
1.100 0.05
1.140 0.04
1.180 0.05
1.205 0.04
1.215 0.30
1.222 0.52
1.230 0.38
1.238 0.50
1.248 0.33
1.258 0.49
1.268 0.32
1.278 0.47
1.288 0.34
1.298 0.51
1.308 0.33
1.318 0.48
1.328 0.35
1.338 0.52
1.348 0.33
1.358 0.49
1.368 0.34
1.378 0.50
1.388 0.36
1.398 0.53
1.408 0.34
1.418 0.48
1.428 0.33
1.438 0.51
1.448 0.35
1.458 0.49
1.468 0.32
1.478 0.47
1.488 0.34
1.498 0.52
1.508 0.33
1.518 0.47
1.528 0.31
1.538 0.48
1.548 0.30
1.558 0.46
1.568 0.32
1.578 0.49
1.588 0.33
1.598 0.47
1.608 0.31
1.618 0.45
1.628 0.30
1.638 0.47
1.648 0.32
1.658 0.50
1.668 0.34
1.678 0.51
1.688 0.35
1.698 0.52
1.708 0.33
1.718 0.49
1.728 0.34
1.738 0.53
1.748 0.33
1.758 0.48
1.768 0.35
1.778 0.51
1.788 0.34
1.798 0.47
1.808 0.32
1.818 0.49
1.828 0.35
1.838 0.52
1.848 0.37
1.858 0.57
1.866 0.40
1.874 0.36
1.884 0.33
1.894 0.42
1.904 0.30
1.914 0.34
1.924 0.26
1.934 0.24
1.944 0.18
1.954 0.20
1.964 0.16
1.974 0.19
1.984 0.15
1.994 0.18
2.004 0.14
2.014 0.17
2.024 0.13
2.034 0.16
2.044 0.14
2.054 0.18
2.064 0.13
2.074 0.16
2.084 0.12
2.094 0.15
2.104 0.13
2.114 0.16
2.124 0.12
2.134 0.15
2.144 0.13
2.154 0.16
2.164 0.12
2.174 0.14
2.184 0.12
2.194 0.15
2.204 0.13
2.214 0.17
2.224 0.15
2.234 0.20
2.244 0.24
2.252 0.29
2.260 0.22
2.270 0.16
2.280 0.10
2.290 0.07
2.300 0.05
2.320 0.04
2.400 0.05
2.500 0.04
2.600 0.05
2.700 0.04
2.800 0.05
2.880 0.04
2.890 0.30
2.897 0.78
2.904 0.55
2.911 0.82
2.918 0.50
2.926 0.74
2.934 0.45
2.942 0.70
2.950 0.48
2.958 0.65
2.966 0.42
2.975 0.60
2.985 0.40
2.995 0.55
3.005 0.38
3.015 0.48
3.025 0.33
3.035 0.44
3.045 0.30
3.055 0.40
3.065 0.28
3.075 0.36
3.085 0.40
3.095 0.30
3.105 0.42
3.115 0.32
3.125 0.40
3.135 0.28
3.145 0.35
3.155 0.24
3.165 0.30
3.175 0.22
3.185 0.30
3.195 0.24
3.205 0.33
3.215 0.25
3.225 0.35
3.235 0.28
3.245 0.38
3.255 0.30
3.265 0.46
3.272 0.80
3.280 0.50
3.290 0.60
3.300 0.45
3.300 -0.35
3.290 -0.30
3.280 -0.42
3.270 -0.30
3.260 -0.38
3.250 -0.28
3.240 -0.33
3.230 -0.25
3.220 -0.31
3.210 -0.24
3.200 -0.34
3.190 -0.26
3.180 -0.38
3.170 -0.28
3.160 -0.36
3.150 -0.30
3.140 -0.40
3.130 -0.32
3.120 -0.42
3.110 -0.33
3.100 -0.40
3.090 -0.34
3.080 -0.42
3.070 -0.30
3.060 -0.38
3.050 -0.33
3.040 -0.45
3.030 -0.40
3.020 -0.55
3.010 -0.45
3.000 -0.62
2.990 -0.50
2.980 -0.70
2.970 -0.55
2.960 -0.72
2.950 -0.58
2.940 -0.80
2.930 -0.60
2.920 -0.76
2.910 -0.62
2.900 -0.84
2.893 -0.55
2.886 -0.20
2.880 -0.04
2.800 -0.05
2.700 -0.04
2.600 -0.05
2.500 -0.04
2.400 -0.05
2.320 -0.04
2.300 -0.05
2.290 -0.08
2.280 -0.12
2.270 -0.18
2.260 -0.24
2.252 -0.30
2.244 -0.22
2.234 -0.19
2.224 -0.15
2.214 -0.17
2.204 -0.13
2.194 -0.16
2.184 -0.12
2.174 -0.15
2.164 -0.13
2.154 -0.17
2.144 -0.12
2.134 -0.16
2.124 -0.13
2.114 -0.15
2.104 -0.12
2.094 -0.16
2.084 -0.13
2.074 -0.17
2.064 -0.14
2.054 -0.16
2.044 -0.13
2.034 -0.17
2.024 -0.14
2.014 -0.18
2.004 -0.15
1.994 -0.17
1.984 -0.14
1.974 -0.19
1.964 -0.16
1.954 -0.20
1.944 -0.19
1.934 -0.26
1.924 -0.30
1.914 -0.36
1.904 -0.33
1.894 -0.45
1.884 -0.36
1.874 -0.48
1.866 -0.38
1.858 -0.51
1.848 -0.34
1.838 -0.55
1.828 -0.35
1.818 -0.49
1.808 -0.33
1.798 -0.52
1.788 -0.32
1.778 -0.48
1.768 -0.35
1.758 -0.54
1.748 -0.34
1.738 -0.49
1.728 -0.31
1.718 -0.51
1.708 -0.33
1.698 -0.47
1.688 -0.32
1.678 -0.53
1.668 -0.33
1.658 -0.48
1.648 -0.31
1.638 -0.50
1.628 -0.32
1.618 -0.46
1.608 -0.30
1.598 -0.51
1.588 -0.33
1.578 -0.47
1.568 -0.31
1.558 -0.49
1.548 -0.33
1.538 -0.52
1.528 -0.34
1.518 -0.48
1.508 -0.32
1.498 -0.55
1.488 -0.35
1.478 -0.49
1.468 -0.33
1.458 -0.53
1.448 -0.34
1.438 -0.50
1.428 -0.32
1.418 -0.52
1.408 -0.35
1.398 -0.48
1.388 -0.33
1.378 -0.54
1.368 -0.34
1.358 -0.49
1.348 -0.32
1.338 -0.51
1.328 -0.34
1.318 -0.47
1.308 -0.33
1.298 -0.55
1.288 -0.35
1.278 -0.50
1.268 -0.34
1.258 -0.57
1.248 -0.37
1.238 -0.62
1.230 -0.42
1.222 -0.66
1.215 -0.35
1.205 -0.04
1.180 -0.05
1.140 -0.04
1.100 -0.05
1.060 -0.04
1.030 -0.05
1.015 -0.06
1.005 -0.08
0.995 -0.12
0.985 -0.17
0.975 -0.22
0.965 -0.26
0.955 -0.30
0.945 -0.24
0.935 -0.36
0.925 -0.25
0.915 -0.38
0.905 -0.27
0.895 -0.42
0.885 -0.26
0.875 -0.38
0.865 -0.27
0.855 -0.41
0.845 -0.28
0.835 -0.44
0.825 -0.30
0.815 -0.42
0.805 -0.29
0.795 -0.47
0.785 -0.31
0.775 -0.44
0.765 -0.30
0.755 -0.48
0.745 -0.32
0.735 -0.45
0.725 -0.31
0.715 -0.49
0.705 -0.33
0.695 -0.46
0.685 -0.32
0.675 -0.51
0.665 -0.34
0.655 -0.48
0.645 -0.35
0.635 -0.53
0.625 -0.37
0.615 -0.49
0.605 -0.36
0.595 -0.55
0.585 -0.39
0.575 -0.51
0.565 -0.37
0.555 -0.57
0.545 -0.40
0.535 -0.52
0.525 -0.38
0.515 -0.55
0.505 -0.39
0.495 -0.51
0.485 -0.37
0.475 -0.60
0.465 -0.40
0.455 -0.53
0.445 -0.38
0.435 -0.55
0.425 -0.39
0.415 -0.51
0.405 -0.37
0.395 -0.57
0.385 -0.38
0.375 -0.50
0.365 -0.36
0.355 -0.53
0.345 -0.37
0.335 -0.49
0.325 -0.35
0.315 -0.51
0.305 -0.36
0.295 -0.48
0.285 -0.34
0.275 -0.50
0.265 -0.37
0.255 -0.62
0.245 -0.38
0.235 -0.50
0.225 -0.35
0.215 -0.48
0.205 -0.34
0.195 -0.50
0.185 -0.35
0.175 -0.47
0.165 -0.33
0.155 -0.49
0.145 -0.34
0.135 -0.46
0.125 -0.33
0.115 -0.49
0.105 -0.35
0.095 -0.52
0.085 -0.39
0.075 -0.55
0.065 -0.42
0.055 -0.60
0.045 -0.55
0.036 -0.78
0.030 -0.62
0.024 -0.80
0.018 -0.65
0.012 -0.82
0.006 -0.60
0.000 -0.50
} -- cycle;
\end{axis}
\path ([yshift=3.5pt]top.north west) ([xshift=-48pt,yshift=-38pt]main.south west);
\end{tikzpicture}
\end{document}
